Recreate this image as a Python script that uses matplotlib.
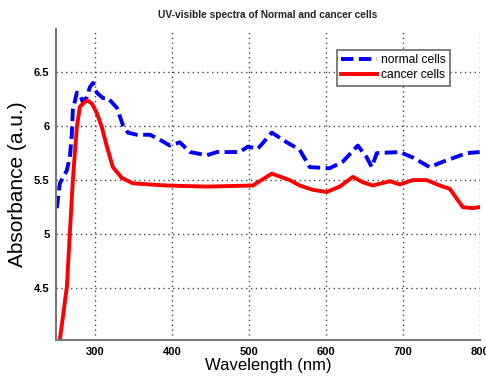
"""
 UV-visible spectra of normal and cancer cells
"""

# Libraries
import matplotlib
matplotlib.use("Agg")
import matplotlib.pyplot as plt

# Data
normal_nm  = [250.6, 254.5, 263.6, 267.5, 270.1, 271.4, 276.6, 280.5, 284.4, 289.6, 293.5, 297.4,
              302.6, 310.4, 316.9, 328.6, 336.4, 342.9, 354.6, 371.4, 380.5, 397.4,
              410.4, 423.4, 445.5, 458.4, 488.3, 498.7, 511.7, 529.9, 549.4, 566.2, 579.2, 605.2,
              622.1, 641.6, 653.3, 659.8, 666.3, 696.2, 713, 735.1, 752, 783.2, 800]
normal_abs = [5.24, 5.47, 5.59, 5.71, 5.93, 6.15, 6.31, 6.30, 6.22, 6.27, 6.36, 6.40,
              6.31, 6.26, 6.26, 6.17, 6.01, 5.94, 5.92, 5.92, 5.89, 5.82,
              5.85, 5.76, 5.73, 5.76, 5.76, 5.81, 5.79, 5.94, 5.85, 5.78, 5.62, 5.61,
              5.67, 5.82, 5.71, 5.62, 5.75, 5.76, 5.71, 5.62, 5.67, 5.75, 5.76]
cancer_nm  = [250, 254.5, 263.6, 267.5, 271.4, 274, 276.6, 280.5, 289.6, 296.1, 302.6, 309.1,
              315.6, 323.4, 335.1, 349.4, 393.5, 445.5, 505.2, 529.9, 553.3, 566.2, 583.2,
              601.3, 618.2, 635.2, 648.2, 661.1, 683.2, 696.2, 713, 731.2, 748.1, 761.1, 778,
              791, 800]
cancer_abs = [3.7, 4.02, 4.51, 5.01, 5.5, 5.75, 5.99, 6.18, 6.24, 6.21, 6.12, 5.99,
              5.81, 5.62, 5.52, 5.47, 5.45, 5.44, 5.45, 5.56, 5.5, 5.45, 5.41,
              5.39, 5.44, 5.53, 5.48, 5.45, 5.49, 5.46, 5.5, 5.5, 5.45, 5.42, 5.25,
              5.24, 5.25]
x_ticks = [300, 400, 500, 600, 700, 800]
y_ticks = [4.5, 5, 5.5, 6, 6.5]
y_tick_labels = ["4.5", "5", "5.5", "6", "6.5"]

# Figure
plt.rcParams["font.family"] = ["Liberation Sans", "DejaVu Sans"]
fig = plt.figure(figsize=(4.86, 3.76), dpi=100)
ax = fig.add_axes([0.116, 0.096, 0.871, 0.827])

ax.plot(normal_nm, normal_abs, color="#0000ff", linestyle=(0, (3.2, 1.4)), linewidth=2.8,
        dash_joinstyle="round", label="normal cells")
ax.plot(cancer_nm, cancer_abs, color="#ff0000", linewidth=2.8, solid_joinstyle="round",
        label="cancer cells")

ax.set_xlim(250, 800)
ax.set_ylim(4.02, 6.9)
ax.set_xticks(x_ticks)
ax.set_yticks(y_ticks)
ax.set_yticklabels(y_tick_labels)
ax.tick_params(axis="both", length=0, labelsize=8, pad=5)
for lab in ax.get_xticklabels() + ax.get_yticklabels():
    lab.set_fontweight("bold")
ax.grid(True, color="#444444", linestyle=(0, (1, 2.5)), linewidth=1.0)

for side in ["top", "right"]:
    ax.spines[side].set_visible(False)
for side in ["left", "bottom"]:
    ax.spines[side].set_color("#777777")
    ax.spines[side].set_linewidth(1.5)

ax.set_title("UV-visible spectra of Normal and cancer cells", fontsize=7.3, fontweight="bold",
             color="#222222", pad=8)
ax.set_xlabel("Wavelength (nm)", fontsize=12, labelpad=1)
ax.set_ylabel("Absorbance (a.u.)", fontsize=15, labelpad=5)

leg = ax.legend(loc="upper left", bbox_to_anchor=(0.662, 0.932), fontsize=8.7,
                frameon=True, fancybox=False, handlelength=3.0, borderpad=0.35,
                labelspacing=0.25, handletextpad=0.35, borderaxespad=0)
leg.get_frame().set_edgecolor("#444444")
leg.get_frame().set_linewidth(1.2)

fig.savefig("out.png", dpi=100)
